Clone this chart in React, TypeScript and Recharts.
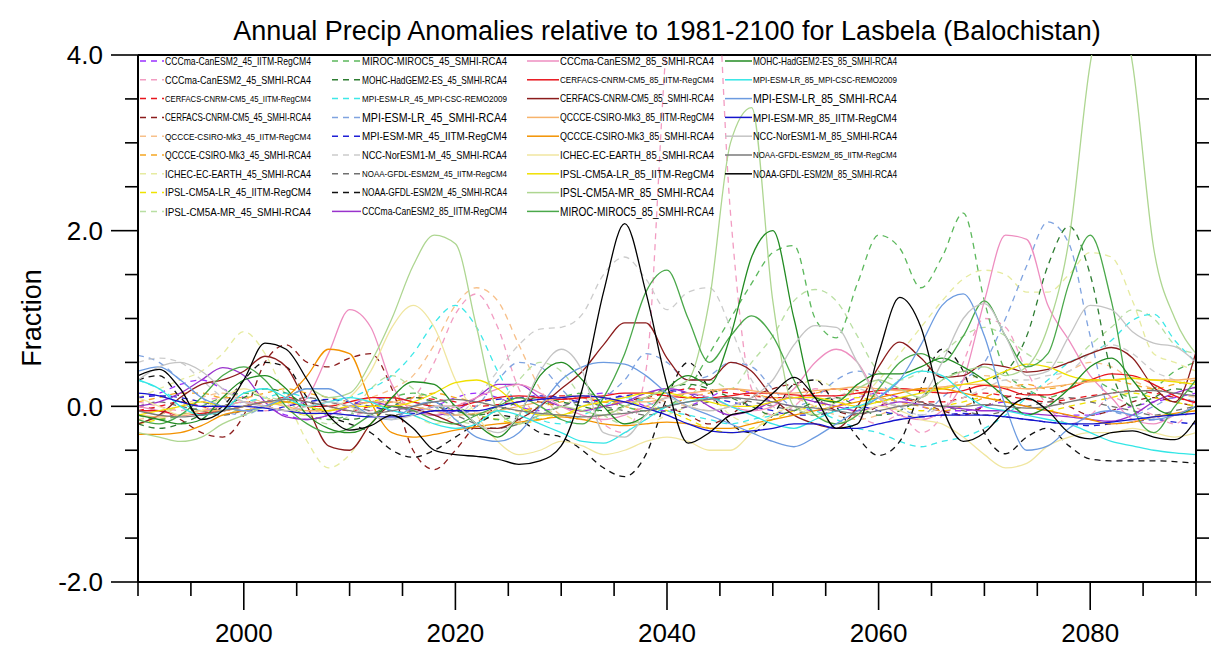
import React from 'react';
import { LineChart, Line, XAxis, YAxis, ReferenceLine, Legend } from 'recharts';

const TITLE = 'Annual Precip Anomalies relative to 1981-2100 for Lasbela (Balochistan)';
const Y_TITLE = 'Fraction';

const YEARS = [
  1990, 1992, 1994, 1996, 1998, 2000, 2002, 2004, 2006, 2008,
  2010, 2012, 2014, 2016, 2018, 2020, 2022, 2024, 2026, 2028,
  2030, 2032, 2034, 2036, 2038, 2040, 2042, 2044, 2046, 2048,
  2050, 2052, 2054, 2056, 2058, 2060, 2062, 2064, 2066, 2068,
  2070, 2072, 2074, 2076, 2078, 2080, 2082, 2084, 2086, 2088,
  2090,
];

const X_TICKS = [1990, 1995, 2000, 2005, 2010, 2015, 2020, 2025, 2030, 2035, 2040, 2045, 2050, 2055, 2060, 2065, 2070, 2075, 2080, 2085, 2090];
const X_LABELLED = [2000, 2020, 2040, 2060, 2080];
const Y_TICKS = [-2, -1.5, -1, -0.5, 0, 0.5, 1, 1.5, 2, 2.5, 3, 3.5, 4];
const Y_LABELLED = [-2, 0, 2, 4];

// ---- RCP4.5 (dashed) ----
const CCCma_45_IITM = [
  0.1, 0.15, 0.25, 0.3, 0.2, 0.1, 0.0, -0.1, -0.15, -0.1,
  0.0, 0.1, 0.05, -0.05, 0.0, 0.1, 0.15, 0.1, 0.0, -0.05,
  0.0, 0.1, 0.15, 0.1, 0.0, -0.05, 0.0, 0.1, 0.2, 0.15,
  0.05, 0.0, -0.05, 0.0, 0.1, 0.15, 0.1, 0.0, -0.05, -0.05,
  0.0, 0.05, 0.0, -0.05, -0.1, -0.1, -0.05, 0.0, 0.05, 0.1,
  0.15,
];
const CCCma_45_SMHI = [
  0.05, 0.0, -0.05, 0.05, 0.1, 0.05, -0.05, 0.0, 0.1, 0.0,
  -0.1, -0.05, 0.0, 0.1, 0.5, 1.05, 1.28, 0.9, 0.2, -0.1,
  0.0, 0.1, -0.2, -0.3, 0.4, 4.2, 6.0, 6.0, 2.2, 0.2,
  -0.1, 0.0, 0.2, 0.1, -0.1, -0.2, -0.1, -0.3, -0.1, 0.5,
  1.0, 0.9, 0.4, 0.0, -0.2, -0.1, 0.1, 0.0, -0.1, -0.2,
  0.1,
];
const CERFACS_45_IITM = [
  -0.05, 0.0, 0.05, 0.0, -0.05, 0.0, 0.05, 0.1, 0.05, 0.0,
  -0.05, 0.0, 0.05, 0.1, 0.08, 0.05, 0.0, 0.02, 0.05, 0.1,
  0.12, 0.1, 0.05, 0.05, 0.1, 0.15, 0.2, 0.18, 0.15, 0.12,
  0.1, 0.1, 0.15, 0.2, 0.18, 0.15, 0.1, 0.05, 0.05, 0.1,
  0.15, 0.12, 0.08, 0.05, 0.08, 0.12, 0.15, 0.18, 0.15, 0.1,
  0.05,
];
const CERFACS_45_SMHI = [
  0.0, -0.05, -0.15, -0.3, -0.35, -0.1, 0.5, 0.7, 0.5, 0.45,
  0.55, 0.6, 0.2, -0.5, -0.72, -0.5, -0.2, 0.0, 0.1, 0.05,
  0.0, -0.05, 0.0, 0.05, 0.1, 0.0, -0.1, -0.2, -0.1, 0.1,
  0.2, 0.25, 0.1, -0.05, -0.1, 0.0, 0.1, 0.05, -0.05, -0.1,
  0.0, 0.1, 0.15, 0.1, 0.0, -0.1, -0.05, 0.05, 0.1, 0.05,
  0.0,
];
const QCCCE_45_IITM = [
  -0.15, -0.1, 0.0, 0.1, 0.15, 0.1, 0.05, 0.0, -0.05, 0.0,
  0.05, 0.1, 0.2, 0.35, 0.7, 1.15, 1.35, 1.2, 0.7, 0.2,
  -0.1, -0.15, -0.1, 0.0, 0.1, 0.05, 0.0, -0.05, 0.0, 0.1,
  0.15, 0.1, 0.0, -0.1, -0.15, -0.1, 0.0, 0.1, 0.2, 0.3,
  0.35, 0.3, 0.2, 0.25, 0.4, 0.5, 0.45, 0.3, 0.2, 0.15,
  0.1,
];
const QCCCE_45_SMHI = [
  0.05, 0.1, 0.15, 0.15, 0.1, 0.1, 0.15, 0.2, 0.15, 0.1,
  0.05, 0.0, 0.05, 0.1, 0.15, 0.1, 0.05, 0.0, -0.05, 0.0,
  0.05, 0.1, 0.05, 0.0, -0.05, 0.0, 0.1, 0.15, 0.2, 0.15,
  0.1, 0.1, 0.15, 0.2, 0.15, 0.1, 0.05, 0.0, -0.05, 0.0,
  0.1, 0.2, 0.25, 0.2, 0.25, 0.3, 0.3, 0.25, 0.2, 0.25,
  0.3,
];
const ICHEC_45_SMHI = [
  0.1, 0.2, 0.3, 0.4, 0.6, 0.85, 0.6, 0.1, -0.4, -0.7,
  -0.55, -0.2, 0.0, -0.1, -0.2, -0.1, 0.0, 0.1, 0.0, -0.1,
  0.0, 0.1, 0.0, -0.1, -0.2, -0.1, 0.0, 0.1, -0.1, -0.2,
  0.0, 0.2, 0.3, 0.2, 0.1, 0.3, 0.6, 0.9, 1.2, 1.45,
  1.55, 1.5, 1.3, 1.3, 1.5, 1.75, 1.7, 1.2, 0.6, 0.5,
  0.4,
];
const IPSL_LR_45_IITM = [
  -0.2, -0.15, -0.1, -0.05, 0.0, 0.05, 0.0, -0.05, -0.1, -0.05,
  0.0, 0.05, 0.1, 0.05, 0.0, -0.05, -0.1, -0.15, -0.2, -0.15,
  -0.1, -0.05, 0.0, 0.05, 0.0, -0.05, -0.15, -0.25, -0.3, -0.25,
  -0.15, -0.05, 0.0, 0.05, 0.1, 0.05, 0.0, -0.05, 0.0, 0.05,
  0.1, 0.05, 0.0, -0.05, 0.0, 0.05, 0.1, 0.15, 0.1, 0.05,
  0.0,
];
const IPSL_MR_45_SMHI = [
  -0.2, -0.1, 0.0, -0.05, -0.1, 0.0, 0.1, 0.05, -0.1, -0.2,
  -0.1, 0.2, 0.35, 0.2, 0.0, -0.15, -0.2, 0.0, 0.3, 0.5,
  0.4, 0.1, -0.1, -0.2, -0.15, 0.0, 0.1, 0.3, 0.2, 0.5,
  0.8, 1.2, 1.33, 1.2, 0.8, 0.4, 0.3, 0.4, 0.6, 0.8,
  0.9, 0.8, 0.6, 0.5, 0.5, 0.7, 0.9, 1.1, 1.0, 0.7,
  0.6,
];
const MIROC_45_SMHI = [
  -0.1, -0.15, -0.1, 0.0, 0.1, 0.15, 0.1, 0.0, -0.1, -0.15,
  -0.1, 0.0, 0.1, 0.15, 0.1, 0.0, -0.1, -0.15, -0.1, 0.0,
  0.1, 0.15, 0.1, 0.0, -0.05, 0.0, 0.2, 0.6, 1.0, 1.4,
  1.75, 1.83, 1.0, 0.78, 1.4, 1.95, 1.8, 1.35, 1.7, 2.2,
  1.2, 0.4, 0.2, 0.1, 0.2, 0.3, 0.2, 0.1, 0.2, 0.4,
  0.5,
];
const MOHC_45_SMHI = [
  -0.2, -0.25, -0.2, -0.1, 0.0, 0.1, 0.2, 0.15, 0.0, -0.1,
  -0.15, -0.1, 0.0, 0.1, 0.05, -0.05, -0.1, -0.05, 0.05, 0.1,
  0.05, 0.0, -0.05, 0.0, 0.1, 0.2, 0.25, 0.2, 0.1, 0.0,
  -0.1, -0.05, 0.05, 0.1, 0.0, -0.1, -0.05, 0.1, 0.3, 0.4,
  0.3, 0.4, 0.8, 1.6, 2.05, 1.5, 0.4, 0.0, 0.1, 0.2,
  0.15,
];
const MPI_LR_45_REMO = [
  0.3, 0.2, 0.05, -0.05, 0.0, 0.05, 0.1, 0.15, 0.1, 0.05,
  0.1, 0.2, 0.35, 0.6, 0.95, 1.15, 0.9, 0.4, 0.0, -0.15,
  -0.2, -0.1, 0.0, 0.1, 0.05, -0.05, -0.1, -0.15, -0.2, -0.15,
  -0.1, 0.0, -0.05, -0.15, -0.25, -0.3, -0.4, -0.46, -0.4, -0.35,
  -0.25, -0.1, 0.1, 0.3, 0.5, 0.6, 0.75, 0.98, 1.05, 0.75,
  0.5,
];
const MPI_LR_45_SMHI = [
  0.58, 0.5, 0.3, 0.1, -0.05, -0.1, 0.0, 0.05, 0.0, -0.05,
  0.0, 0.05, 0.1, 0.05, 0.0, -0.1, 0.0, 0.3, 0.5, 0.45,
  0.2, 0.0, 0.1, 0.3, 0.6, 0.5, 0.3, 0.35, 0.5, 0.45,
  0.2, 0.0, 0.1, 0.3, 0.4, 0.3, 0.0, -0.1, 0.1, 0.3,
  0.5, 1.0, 1.6, 2.1, 1.85, 0.8, -0.05, -0.1, 0.0, 0.1,
  0.05,
];
const MPI_MR_45_IITM = [
  0.1, 0.12, 0.1, 0.05, 0.0, -0.05, -0.05, 0.0, 0.05, 0.08,
  0.05, 0.0, -0.05, -0.08, -0.05, 0.0, 0.05, 0.08, 0.1, 0.12,
  0.1, 0.05, 0.08, 0.12, 0.15, 0.18, 0.15, 0.1, 0.05, 0.0,
  -0.05, -0.1, -0.1, -0.05, 0.0, -0.05, -0.1, -0.12, -0.1, -0.08,
  -0.1, -0.12, -0.15, -0.18, -0.2, -0.22, -0.2, -0.18, -0.15, -0.18,
  -0.2,
];
const NCC_45_SMHI = [
  0.5, 0.55, 0.5, 0.3, 0.1, -0.05, 0.0, 0.05, 0.0, -0.1,
  -0.1, 0.0, 0.0, -0.05, -0.1, -0.1, 0.1, 0.4, 0.7, 0.88,
  0.9, 1.05, 1.5, 1.7, 1.45, 1.1, 1.3, 1.35, 0.9, 0.3,
  0.0, -0.1, 0.0, 0.1, 0.2, 0.1, 0.0, -0.1, 0.0, 0.1,
  0.2, 0.3, 0.3, 0.35, 0.4, 0.6, 0.7, 0.6, 0.4, 0.3,
  0.2,
];
const NOAA_45_IITM = [
  0.0, 0.05, 0.0, -0.05, -0.1, -0.05, 0.0, 0.05, 0.1, 0.05,
  0.0, -0.05, -0.1, -0.05, 0.0, -0.1, -0.2, -0.25, -0.2, -0.1,
  0.0, 0.05, 0.0, -0.05, -0.1, -0.05, 0.0, 0.05, 0.1, 0.05,
  0.0, -0.05, -0.1, -0.05, 0.0, 0.05, 0.1, 0.05, 0.0, -0.05,
  -0.1, -0.05, 0.0, 0.05, 0.1, 0.05, 0.0, -0.05, -0.1, -0.05,
  0.0,
];
const NOAA_45_SMHI = [
  0.3, 0.35, 0.1, -0.1, 0.0, 0.3, 0.5, 0.45, 0.1, -0.1,
  -0.2, -0.3, -0.5, -0.58, -0.5, -0.35, -0.2, -0.1, -0.15, -0.3,
  -0.35, -0.5, -0.7, -0.8, -0.55, 0.1, 0.5, 0.2, -0.2, -0.3,
  -0.1, 0.25, 0.3, 0.0, -0.35, -0.56, -0.4, 0.2, 0.65, 0.4,
  -0.3, -0.54, -0.35, -0.25, -0.45, -0.6, -0.62, -0.62, -0.62, -0.63,
  -0.65,
];

// ---- RCP8.5 (solid) ----
const CCCma_85_IITM = [
  0.0, 0.05, 0.15, 0.3, 0.44, 0.35, 0.05, -0.12, -0.15, -0.1,
  0.0, 0.05, 0.0, -0.05, -0.1, -0.05, 0.1, 0.25, 0.25, 0.1,
  0.0, -0.05, 0.0, 0.05, 0.15, 0.2, 0.15, 0.0, -0.1, -0.05,
  0.05, 0.1, 0.05, 0.0, -0.05, 0.0, 0.05, 0.02, 0.0, -0.03,
  -0.05, -0.05, -0.08, -0.1, -0.12, -0.15, -0.17, -0.1, 0.05, 0.15,
  0.22,
];
const CCCma_85_SMHI = [
  0.0, -0.05, -0.1, -0.05, 0.0, 0.05, 0.0, -0.05, 0.1, 0.6,
  1.1, 0.9, 0.25, -0.05, -0.1, 0.0, 0.1, 0.2, 0.25, 0.15,
  0.0, -0.1, -0.15, -0.1, 0.0, 0.1, 0.15, 0.1, 0.0, -0.05,
  0.0, 0.2, 0.5, 0.65, 0.5, 0.1, -0.1, -0.15, -0.05, 0.3,
  1.2, 1.95, 1.9, 1.15, 0.75, 0.35, 0.1, -0.15, -0.2, -0.1,
  0.0,
];
const CERFACS_85_IITM = [
  -0.05, -0.05, -0.1, -0.08, -0.05, 0.0, 0.05, 0.05, 0.0, 0.0,
  0.05, 0.1, 0.1, 0.05, 0.0, 0.0, 0.05, 0.1, 0.12, 0.1,
  0.08, 0.1, 0.12, 0.15, 0.15, 0.12, 0.1, 0.1, 0.12, 0.15,
  0.15, 0.13, 0.12, 0.12, 0.15, 0.18, 0.2, 0.18, 0.15, 0.18,
  0.24, 0.2, 0.13, 0.13, 0.2, 0.3, 0.37, 0.35, 0.25, 0.12,
  0.04,
];
const CERFACS_85_SMHI = [
  -0.2, -0.1, 0.1, 0.25, 0.3, 0.4, 0.57, 0.45, 0.0, -0.45,
  -0.5, -0.2, 0.0, -0.03, -0.1, -0.2, -0.25, -0.25, -0.15, 0.0,
  0.2, 0.4, 0.7, 0.95, 0.95, 0.55, 0.3, 0.3, 0.5, 0.4,
  0.1, -0.1, -0.2, -0.25, 0.0, 0.45, 0.73, 0.55, 0.33, 0.35,
  0.48, 0.45, 0.39, 0.42, 0.5, 0.6, 0.67, 0.55, 0.22, 0.05,
  0.62,
];
const QCCCE_85_IITM = [
  -0.1, -0.12, -0.1, -0.05, -0.05, 0.0, 0.05, 0.0, -0.05, -0.05,
  0.0, 0.05, 0.05, 0.0, -0.05, -0.1, -0.08, -0.05, 0.0, 0.05,
  0.1, 0.12, 0.1, 0.05, 0.05, 0.1, 0.15, 0.18, 0.2, 0.18,
  0.15, 0.15, 0.18, 0.2, 0.22, 0.2, 0.18, 0.2, 0.22, 0.25,
  0.25, 0.22, 0.2, 0.22, 0.25, 0.28, 0.3, 0.32, 0.3, 0.3,
  0.32,
];
const QCCCE_85_SMHI = [
  -0.32, -0.32, -0.3, -0.22, -0.1, -0.05, 0.0, 0.1, 0.35, 0.65,
  0.6, 0.05, -0.3, -0.35, -0.32, -0.27, -0.23, -0.2, -0.18, -0.15,
  -0.12, -0.15, -0.2, -0.22, -0.2, -0.18, -0.2, -0.25, -0.25, -0.2,
  -0.15, -0.1, -0.05, 0.0, 0.05, 0.1, 0.15, 0.2, 0.2, 0.15,
  0.1, 0.05, 0.0, -0.05, -0.1, -0.15, -0.2, -0.18, -0.12, -0.08,
  -0.05,
];
const ICHEC_85_SMHI = [
  0.1, 0.0, -0.1, -0.05, 0.1, 0.2, 0.1, 0.0, -0.1, -0.05,
  0.1, 0.4, 0.9, 1.15, 0.9, 0.3, -0.1, -0.4, -0.55, -0.5,
  -0.4, -0.45, -0.55, -0.5, -0.4, -0.35, -0.4, -0.5, -0.5, -0.3,
  -0.1, 0.0, -0.1, -0.2, -0.1, 0.0, -0.05, -0.15, -0.2, -0.35,
  -0.55, -0.7, -0.65, -0.45, -0.35, -0.3, -0.3, -0.25, -0.3, -0.35,
  -0.3,
];
const IPSL_LR_85_IITM = [
  -0.1, -0.05, 0.0, 0.05, 0.0, -0.05, 0.0, 0.05, 0.0, -0.05,
  0.0, 0.0, 0.0, 0.05, 0.15, 0.27, 0.3, 0.2, 0.0, -0.1,
  -0.1, 0.0, 0.05, 0.1, 0.15, 0.15, 0.1, 0.05, 0.0, 0.0,
  0.05, 0.1, 0.1, 0.05, 0.0, 0.05, 0.1, 0.15, 0.2, 0.25,
  0.3, 0.4, 0.48, 0.45, 0.35, 0.3, 0.3, 0.32, 0.3, 0.28,
  0.25,
];
const IPSL_MR_85_SMHI = [
  -0.3, -0.35, -0.4, -0.35, -0.2, -0.1, 0.0, 0.1, 0.2, 0.1,
  0.15, 0.5, 1.0, 1.6, 1.95, 1.85, 0.9, -0.05, -0.2, -0.1,
  0.0, -0.05, -0.1, 0.0, 0.1, 0.2, 0.3, 1.2, 3.0, 3.4,
  1.2, 0.0, -0.1, 0.05, 0.2, 0.3, 0.2, 0.1, 0.3, 0.4,
  0.45, 0.35, 0.45, 0.9, 1.9, 3.9, 4.8, 3.9, 1.8, 1.0,
  0.6,
];
const MIROC_85_SMHI = [
  -0.15, -0.2, -0.1, 0.1, 0.35, 0.45, 0.3, 0.0, -0.2, -0.3,
  -0.25, -0.1, 0.0, -0.05, -0.15, -0.2, -0.1, 0.0, 0.1, 0.0,
  -0.15, -0.2, 0.1, 0.6, 1.3, 1.55, 1.0, 0.5, 0.8, 1.03,
  0.8, 0.3, -0.1, -0.2, -0.1, 0.2, 0.5, 0.6, 0.5, 0.8,
  1.2, 0.8, 0.45, 0.6, 1.4, 1.95, 1.2, 0.0, -0.3, 0.0,
  0.3,
];
const MOHC_85_SMHI = [
  -0.1, -0.15, -0.2, -0.15, 0.1, 0.3, 0.35, 0.2, -0.1, -0.25,
  -0.3, -0.2, 0.1, 0.28, 0.25, 0.0, -0.2, -0.35, -0.1, 0.35,
  0.5, 0.3, 0.0, -0.2, -0.1, 0.2, 0.35, 0.25, 0.8, 1.7,
  2.0, 1.0, 0.1, 0.05, 0.25, 0.37, 0.37, 0.45, 0.55, 0.45,
  0.3, 0.1, -0.1, 0.0, 0.2, 0.45, 0.55, 0.3, 0.0, -0.1,
  0.0,
];
const MPI_LR_85_REMO = [
  0.3, 0.2, 0.0, -0.1, -0.05, 0.15, 0.2, 0.1, 0.0, 0.05,
  0.1, 0.05, -0.05, -0.1, -0.2, -0.25, -0.2, -0.05, -0.1, -0.2,
  -0.3, -0.4, -0.42, -0.3, -0.15, 0.0, 0.05, 0.1, 0.0, -0.1,
  -0.2, -0.25, -0.15, -0.05, 0.0, 0.1, 0.3, 0.4, 0.35, 0.15,
  0.0, -0.05, -0.1, -0.15, -0.2, -0.3, -0.4, -0.45, -0.5, -0.53,
  -0.55,
];
const MPI_LR_85_SMHI = [
  0.4, 0.45, 0.3, 0.1, 0.0, -0.05, 0.0, 0.1, 0.2, 0.2,
  0.05, -0.1, -0.15, 0.0, 0.05, -0.15, -0.35, -0.4, -0.3, 0.0,
  0.3, 0.45, 0.5, 0.48, 0.35, 0.15, 0.0, -0.1, -0.2, -0.3,
  -0.4, -0.46, -0.35, -0.2, -0.05, 0.1, 0.3, 0.7, 1.15, 1.28,
  0.8, 0.0, -0.5, -0.45, -0.25, -0.1, -0.05, -0.1, -0.15, -0.1,
  0.0,
];
const MPI_MR_85_IITM = [
  0.15, 0.12, 0.05, 0.0, 0.0, 0.0, -0.02, -0.05, -0.08, -0.08,
  -0.1, -0.12, -0.12, -0.1, -0.05, -0.05, -0.05, 0.0, 0.05, 0.08,
  0.1, 0.12, 0.1, 0.05, -0.02, -0.1, -0.2, -0.28, -0.3, -0.28,
  -0.25, -0.2, -0.2, -0.25, -0.25, -0.2, -0.15, -0.12, -0.1, -0.1,
  -0.1, -0.12, -0.15, -0.18, -0.2, -0.2, -0.18, -0.15, -0.12, -0.1,
  -0.08,
];
const NCC_85_SMHI = [
  0.3, 0.45, 0.5, 0.4, 0.2, 0.05, 0.0, -0.05, 0.0, 0.05,
  0.0, -0.1, -0.15, -0.1, 0.0, 0.0, -0.2, -0.3, -0.1, 0.4,
  0.65, 0.4, -0.3, -0.35, -0.1, 0.1, 0.0, -0.05, 0.0, 0.1,
  0.3, 0.7, 0.92, 0.9, 0.5, 0.1, 0.0, 0.1, 0.5, 1.0,
  1.17, 0.8, 0.35, 0.4, 0.8, 1.15, 1.1, 0.85, 0.72, 0.68,
  0.5,
];
const NOAA_85_IITM = [
  -0.05, -0.1, -0.12, -0.1, -0.05, 0.0, 0.05, 0.08, 0.05, 0.0,
  -0.05, -0.08, -0.05, 0.0, 0.05, 0.08, 0.05, 0.0, -0.05, -0.08,
  -0.1, -0.12, -0.1, -0.08, -0.05, 0.0, 0.05, 0.08, 0.1, 0.08,
  0.05, 0.0, -0.02, -0.05, -0.08, -0.05, 0.0, 0.02, 0.0, 0.0,
  0.02, 0.0, -0.02, 0.0, 0.05, 0.1, 0.15, 0.17, 0.18, 0.15,
  0.12,
];
const NOAA_85_SMHI = [
  0.35, 0.42, 0.2, -0.15, -0.05, 0.3, 0.72, 0.65, 0.3, -0.1,
  -0.27, -0.22, -0.1, -0.25, -0.5, -0.55, -0.57, -0.6, -0.66, -0.62,
  -0.45, 0.2, 1.3, 2.08, 1.3, 0.25, -0.42, -0.3, -0.1, -0.05,
  0.15, 0.33, 0.1, -0.25, -0.2, 0.6, 1.24, 0.9, 0.0, -0.4,
  -0.3, -0.05, 0.09, -0.05, -0.3, -0.37, -0.3, -0.28, -0.35, -0.38,
  -0.15,
];

const SERIES_NAMES = [
  'CCCma-CanESM2_45_IITM-RegCM4',
  'CCCma-CanESM2_45_SMHI-RCA4',
  'CERFACS-CNRM-CM5_45_IITM-RegCM4',
  'CERFACS-CNRM-CM5_45_SMHI-RCA4',
  'QCCCE-CSIRO-Mk3_45_IITM-RegCM4',
  'QCCCE-CSIRO-Mk3_45_SMHI-RCA4',
  'ICHEC-EC-EARTH_45_SMHI-RCA4',
  'IPSL-CM5A-LR_45_IITM-RegCM4',
  'IPSL-CM5A-MR_45_SMHI-RCA4',
  'MIROC-MIROC5_45_SMHI-RCA4',
  'MOHC-HadGEM2-ES_45_SMHI-RCA4',
  'MPI-ESM-LR_45_MPI-CSC-REMO2009',
  'MPI-ESM-LR_45_SMHI-RCA4',
  'MPI-ESM-MR_45_IITM-RegCM4',
  'NCC-NorESM1-M_45_SMHI-RCA4',
  'NOAA-GFDL-ESM2M_45_IITM-RegCM4',
  'NOAA-GFDL-ESM2M_45_SMHI-RCA4',
  'CCCma-CanESM2_85_IITM-RegCM4',
  'CCCma-CanESM2_85_SMHI-RCA4',
  'CERFACS-CNRM-CM5_85_IITM-RegCM4',
  'CERFACS-CNRM-CM5_85_SMHI-RCA4',
  'QCCCE-CSIRO-Mk3_85_IITM-RegCM4',
  'QCCCE-CSIRO-Mk3_85_SMHI-RCA4',
  'ICHEC-EC-EARTH_85_SMHI-RCA4',
  'IPSL-CM5A-LR_85_IITM-RegCM4',
  'IPSL-CM5A-MR_85_SMHI-RCA4',
  'MIROC-MIROC5_85_SMHI-RCA4',
  'MOHC-HadGEM2-ES_85_SMHI-RCA4',
  'MPI-ESM-LR_85_MPI-CSC-REMO2009',
  'MPI-ESM-LR_85_SMHI-RCA4',
  'MPI-ESM-MR_85_IITM-RegCM4',
  'NCC-NorESM1-M_85_SMHI-RCA4',
  'NOAA-GFDL-ESM2M_85_IITM-RegCM4',
  'NOAA-GFDL-ESM2M_85_SMHI-RCA4',
];

const SERIES_VALUES = [
  CCCma_45_IITM, CCCma_45_SMHI, CERFACS_45_IITM, CERFACS_45_SMHI, QCCCE_45_IITM, QCCCE_45_SMHI,
  ICHEC_45_SMHI, IPSL_LR_45_IITM, IPSL_MR_45_SMHI, MIROC_45_SMHI, MOHC_45_SMHI, MPI_LR_45_REMO,
  MPI_LR_45_SMHI, MPI_MR_45_IITM, NCC_45_SMHI, NOAA_45_IITM, NOAA_45_SMHI,
  CCCma_85_IITM, CCCma_85_SMHI, CERFACS_85_IITM, CERFACS_85_SMHI, QCCCE_85_IITM, QCCCE_85_SMHI,
  ICHEC_85_SMHI, IPSL_LR_85_IITM, IPSL_MR_85_SMHI, MIROC_85_SMHI, MOHC_85_SMHI, MPI_LR_85_REMO,
  MPI_LR_85_SMHI, MPI_MR_85_IITM, NCC_85_SMHI, NOAA_85_IITM, NOAA_85_SMHI,
];

// styles (kept apart from values)
const SERIES_COLORS = [
  '#9b30ff', '#f29cc2', '#e8141c', '#8b1c1c', '#f7c08a', '#f5a623',
  '#e6eba0', '#efe200', '#b9dfa2', '#5cb85c', '#2e7d32', '#3ee8e8',
  '#7fa3e0', '#1f1fd6', '#cccccc', '#707070', '#111111',
  '#9932cc', '#ee8ec0', '#e8141c', '#8b1c1c', '#f7b36b', '#f39200',
  '#f0e6a0', '#f0e000', '#aed691', '#4aa84a', '#228b22', '#33e6e6',
  '#6c9be0', '#1414cc', '#c4c4c4', '#7a7a7a', '#000000',
];
const SERIES_DASHED = SERIES_NAMES.map((n) => n.includes('_45_'));

const KEYS = SERIES_NAMES.map((_, i) => `s${i}`);
const DATA = YEARS.map((year, j) => {
  const row: Record<string, number> = { year };
  KEYS.forEach((k, i) => {
    row[k] = SERIES_VALUES[i][j];
  });
  return row;
});

const FONT = '"Liberation Sans", Arial, Helvetica, sans-serif';
const W = 1211;
const H = 649;

// legend columns: line start, line end, text start, text end
const LEGEND_COLS = [
  [140, 164, 165, 311],
  [332, 361, 362, 507],
  [527, 559, 560, 714],
  [725, 752, 753, 897],
];

const XTick = (props: any) => {
  const { x, y, payload } = props;
  const v = payload.value;
  const major = X_LABELLED.includes(v);
  return (
    <g>
      <line x1={x} x2={x} y1={y} y2={y + (major ? 28 : 14)} stroke="#000" strokeWidth={1.6} />
      {major && (
        <text x={x} y={y + 60} textAnchor="middle" fontSize={26} fontFamily={FONT} fill="#000">
          {v}
        </text>
      )}
    </g>
  );
};

const YTickLeft = (props: any) => {
  const { x, y, payload } = props;
  const v = payload.value;
  const major = Y_LABELLED.includes(v);
  return (
    <g>
      <line x1={x} x2={x - (major ? 27 : 13)} y1={y} y2={y} stroke="#000" strokeWidth={1.6} />
      {major && (
        <text x={x - 35} y={y} dy="0.36em" textAnchor="end" fontSize={26} fontFamily={FONT} fill="#000">
          {v.toFixed(1)}
        </text>
      )}
    </g>
  );
};

const YTickRight = (props: any) => {
  const { x, y, payload } = props;
  const major = Y_LABELLED.includes(payload.value);
  return <line x1={x} x2={x + (major ? 27 : 13)} y1={y} y2={y} stroke="#000" strokeWidth={1.6} />;
};

const Overlay = () => (
  <svg width={W} height={H} style={{ display: 'block', pointerEvents: 'none' }}>
    <text x={667} y={40} textAnchor="middle" fontSize={27} fontFamily={FONT} fill="#000">
      {TITLE}
    </text>
    <text
      x={31}
      y={318}
      transform="rotate(-90 31 318)"
      textAnchor="middle"
      dy="0.36em"
      fontSize={27}
      fontFamily={FONT}
      fill="#000"
    >
      {Y_TITLE}
    </text>
    {SERIES_NAMES.map((name, i) => {
      const col = Math.floor(i / 9);
      const row = i % 9;
      const [l1, l2, t1, t2] = LEGEND_COLS[col];
      const y = 61 + row * 18.8;
      const w = t2 - t1;
      const fs = Math.min(12.5, w / (name.length * 0.5));
      return (
        <g key={name}>
          <line
            x1={l1}
            x2={l2}
            y1={y}
            y2={y}
            stroke={SERIES_COLORS[i]}
            strokeWidth={1.5}
            strokeDasharray={SERIES_DASHED[i] ? '6 5' : undefined}
          />
          <text
            x={t2}
            y={y}
            dy="0.36em"
            textAnchor="end"
            fontSize={fs}
            fontFamily={FONT}
            fill="#000"
            textLength={w}
            lengthAdjust="spacingAndGlyphs"
          >
            {name}
          </text>
        </g>
      );
    })}
  </svg>
);

export default function App() {
  return (
    <div style={{ position: 'fixed', left: 0, top: 0, width: W, height: H, background: '#fff' }}>
      <LineChart width={W} height={H} data={DATA} margin={{ top: 55, right: 0, bottom: 0, left: 0 }}>
        <XAxis
          dataKey="year"
          type="number"
          domain={[1990, 2090]}
          ticks={X_TICKS}
          interval={0}
          allowDataOverflow
          height={67}
          tickSize={0}
          tickMargin={0}
          tickLine={false}
          tick={XTick}
          axisLine={{ stroke: '#000', strokeWidth: 2 }}
        />
        <YAxis
          type="number"
          domain={[-2, 4]}
          ticks={Y_TICKS}
          interval={0}
          allowDataOverflow
          width={138}
          tickSize={0}
          tickMargin={0}
          tickLine={false}
          tick={YTickLeft}
          axisLine={{ stroke: '#000', strokeWidth: 2 }}
        />
        <YAxis
          yAxisId="right"
          orientation="right"
          type="number"
          domain={[-2, 4]}
          ticks={Y_TICKS}
          interval={0}
          allowDataOverflow
          width={15}
          tickSize={0}
          tickMargin={0}
          tickLine={false}
          tick={YTickRight}
          axisLine={{ stroke: '#000', strokeWidth: 2 }}
        />
        <ReferenceLine y={4} stroke="#000" strokeWidth={2} />
        {KEYS.map((k, i) => (
          <Line
            key={k}
            dataKey={k}
            name={SERIES_NAMES[i]}
            type="monotone"
            stroke={SERIES_COLORS[i]}
            strokeWidth={1.3}
            strokeDasharray={SERIES_DASHED[i] ? '6 5' : undefined}
            dot={false}
            activeDot={false}
            isAnimationActive={false}
          />
        ))}
        <Legend
          layout="horizontal"
          verticalAlign="middle"
          align="center"
          wrapperStyle={{ top: 0, left: 0, width: W, height: H, margin: 0, pointerEvents: 'none' }}
          content={() => <Overlay />}
        />
      </LineChart>
    </div>
  );
}
